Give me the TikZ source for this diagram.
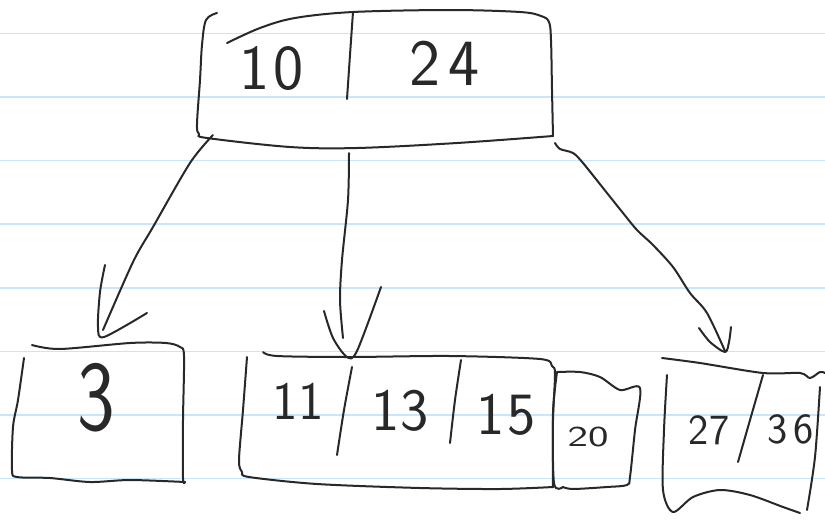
\documentclass[tikz,border=0pt]{standalone}
\usepackage{fontspec}
\definecolor{rulecol}{RGB}{200,229,249}
\definecolor{pencol}{RGB}{40,40,40}
\begin{document}
\begin{tikzpicture}[x=1pt,y=-1pt,
  pen/.style={draw=pencol,line width=2pt,line cap=round,line join=round},
  rule/.style={draw=rulecol,line width=1.8pt},
  digits/.style={inner sep=0pt,text=pencol,font=\sffamily}]
\useasboundingbox (0,0) rectangle (825,523);
\fill[white] (0,0) rectangle (825,523);
% ruled paper
\foreach \y in {33.5,97,160.5,224,288,351.5,415,478.5}
  \draw[rule] (0,\y) -- (825,\y);

% ---- root node ----
\draw[pen] plot[smooth,tension=0.55] coordinates {(217,13) (206,20) (202,45) (200,80) (197,124) (199,134) (207,138) (290,147) (357,148) (457,143) (553,136)};
\draw[pen] plot[smooth,tension=0.55] coordinates {(227,43) (260,28) (295,18) (353,12) (450,10) (520,12) (541,16) (549,22) (551,40) (552,90) (553,136)};
\draw[pen] plot[smooth,tension=0.5] coordinates {(353,12) (350,55) (347,99)};
\node[digits,font=\sffamily\fontsize{64}{64}\selectfont] (k10) at (272,69) {1\hspace{4pt}0};
\node[digits,font=\sffamily\fontsize{66}{66}\selectfont] (k24) at (445,63) {2\hspace{8pt}4};

% connector anchors
\coordinate (rootL) at (213,135);
\coordinate (rootM) at (349,153);
\coordinate (rootR) at (555,143);
\coordinate (tipL) at (103,330);
\coordinate (tipM) at (343,338);
\coordinate (tipR) at (725,351);

% ---- arrows ----
\draw[pen] plot[smooth,tension=0.5] coordinates {(rootL) (190,163) (153,227) (133,262) (tipL)};
\draw[pen] plot[smooth,tension=0.5] coordinates {(105,265) (100,292) (98,327) (104,337) (147,313)};

\draw[pen] plot[smooth,tension=0.5] coordinates {(rootM) (348,200) (342,260) (340,300) (tipM)};
\draw[pen] plot[smooth,tension=0.5] coordinates {(324,311) (333,338) (347,357) (357,351) (381,287)};

\draw[pen] plot[smooth,tension=0.5] coordinates {(rootR) (560,149) (573,153) (583,163) (607,193) (623,213) (637,230) (653,245) (673,267) (690,293) (707,313) (tipR)};
\draw[pen] plot[smooth,tension=0.5] coordinates {(699,328) (710,342) (725,352) (729,342) (731,327)};

% ---- leaf "3" ----
\draw[pen] plot[smooth,tension=0.5] coordinates {(32,345) (60,349) (130,343) (166,343) (180,347) (184,356) (183,420) (183,478) (185,482)};
\draw[pen] plot[smooth,tension=0.5] coordinates {(24,358) (18,400) (13,427) (12,470) (17,477) (50,478) (90,482) (130,480) (185,482)};
\node[digits,font=\sffamily\fontsize{100}{100}\selectfont,xscale=0.8] (k3) at (96,398) {3};

% ---- leaf "11 13 15" ----
\draw[pen] plot[smooth,tension=0.5] coordinates {(263,352) (277,356) (350,357) (450,356) (540,359) (552,366) (555,374) (553,420) (553,487)};
\draw[pen] plot[smooth,tension=0.5] coordinates {(247,357) (243,410) (239,460) (242,472) (249,477) (317,484) (420,488) (500,489) (553,487)};
\draw[pen] plot[smooth,tension=0.5] coordinates {(352,367) (344,410) (337,455)};
\draw[pen] plot[smooth,tension=0.5] coordinates {(461,360) (455,400) (450,443)};
\node[digits,font=\sffamily\fontsize{54}{54}\selectfont] (k11) at (298,401) {11};
\node[digits,font=\sffamily\fontsize{60}{60}\selectfont] (k13) at (400,411) {13};
\node[digits,font=\sffamily\fontsize{60}{60}\selectfont] (k15) at (506,415) {1\hspace{3pt}5};

% ---- leaf "20" ----
\draw[pen] plot[smooth,tension=0.5] coordinates {(557,372) (580,372) (600,377) (620,390) (640,388) (635,430) (630,477) (627,485) (607,487) (573,489) (563,487)};
\draw[pen] plot[smooth,tension=0.5] coordinates {(557,372) (553,413) (554,483) (563,487)};
\node[digits,font=\sffamily\fontsize{29}{29}\selectfont,xscale=1.5] (k20) at (588,437) {20};

% ---- leaf "27 36" ----
\draw[pen] plot[smooth,tension=0.5] coordinates {(662,358) (700,363) (763,373) (800,373) (810,378) (820,372) (825,373)};
\draw[pen] plot[smooth,tension=0.5] coordinates {(667,375) (664,430) (663,490) (673,512) (693,497) (720,490) (750,495) (783,507) (800,513)};
\draw[pen] plot[smooth,tension=0.5] coordinates {(820,387) (815,457) (807,510)};
\draw[pen] plot[smooth,tension=0.5] coordinates {(763,375) (750,420) (738,462)};
\node[digits,font=\sffamily\fontsize{43}{43}\selectfont] (k27) at (709,430) {27};
\node[digits,font=\sffamily\fontsize{43}{43}\selectfont] (k36) at (791,429) {3\hspace{6pt}6};
\end{tikzpicture}
\end{document}
